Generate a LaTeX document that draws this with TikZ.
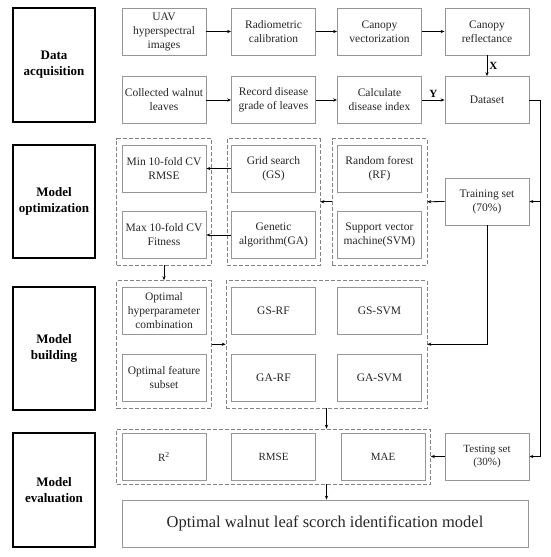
\documentclass[tikz,border=0pt]{standalone}
\usepackage{fontspec}
\setmainfont{Liberation Serif}
\usetikzlibrary{arrows.meta, positioning, fit}
\definecolor{boxgray}{RGB}{150,150,150}
\definecolor{dashgray}{RGB}{130,130,130}

\begin{document}
\begin{tikzpicture}[x=1pt, y=-1pt,
        box/.style={rectangle, draw=boxgray, line width=0.8pt, text=black!85,
          minimum width=84pt, minimum height=47pt, inner sep=1pt, align=center,
          font=\fontsize{11.5}{14}\selectfont},
        stage/.style={rectangle, draw, line width=1.1pt, minimum width=82pt,
          align=center, font=\bfseries\fontsize{13}{16}\selectfont},
        grp/.style={rectangle, draw=dashgray, dash pattern=on 4pt off 2pt, line width=0.8pt,
          inner xsep=5pt, inner ysep=6pt},
        tag/.style={font=\bfseries\fontsize{11}{13}\selectfont, inner sep=2pt},
        arrow/.style={-{Stealth[length=4pt, width=3.2pt]}, line width=0.8pt}
      ]
        \useasboundingbox (0,0) rectangle (550,557);
        % stages
        \node[stage, minimum height=114pt] (acq) at (54,65) {Data\\acquisition};
        \node[stage, minimum height=113pt] (opt) at (54,201.5) {Model\\optimization};
        \node[stage, minimum height=123pt] (bld) at (54,348.5) {Model\\building};
        \node[stage, minimum height=114pt] (evl) at (54,490) {Model\\evaluation};
        % data acquisition
        \node[box] (uav) at (164,31.5) {UAV\\hyperspectral\\images};
        \node[box] (radio) at (273.5,31.5) {Radiometric\\calibration};
        \node[box] (vect) at (379.5,31.5) {Canopy\\vectorization};
        \node[box] (refl) at (487,31.5) {Canopy\\reflectance};
        \node[box] (leaves) at (164,100) {Collected walnut\\leaves};
        \node[box] (grade) at (273.5,100) {Record disease\\grade of leaves};
        \node[box] (index) at (379.5,100) {Calculate\\disease index};
        \node[box] (data) at (487,100) {Dataset};
        % model optimization
        \node[box] (minrmse) at (164,168.5) {Min 10-fold CV\\RMSE};
        \node[box] (maxfit) at (164,235) {Max 10-fold CV\\Fitness};
        \node[box] (gs) at (273.5,168.5) {Grid search\\(GS)};
        \node[box] (ga) at (273.5,235) {Genetic\\algorithm(GA)};
        \node[box] (rf) at (379.5,168.5) {Random forest\\(RF)};
        \node[box] (svm) at (379.5,235) {Support vector\\machine(SVM)};
        \node[box] (train) at (487,201.5) {Training set\\(70\%)};
        \node[grp, fit=(minrmse)(maxfit)] (og1) {};
        \node[grp, inner xsep=4pt, fit=(gs)(ga)] (og2) {};
        \node[grp, fit=(rf)(svm)] (og3) {};
        % model building
        \node[box] (hyper) at (164,310.5) {Optimal\\hyperparameter\\combination};
        \node[box] (subset) at (164,378) {Optimal feature\\subset};
        \node[box] (gsrf) at (273.5,310.5) {GS-RF};
        \node[box] (gssvm) at (379.5,310.5) {GS-SVM};
        \node[box] (garf) at (273.5,378) {GA-RF};
        \node[box] (gasvm) at (379.5,378) {GA-SVM};
        \node[grp, fit=(hyper)(subset)] (bg1) {};
        \node[grp, fit=(gsrf)(gasvm)] (bg2) {};
        % model evaluation
        \node[box, font=\fontsize{11}{13.5}\selectfont] (rsq) at (164,456.5) {R\textsuperscript{2}};
        \node[box, font=\fontsize{11}{13.5}\selectfont] (rmse) at (273.5,456.5) {RMSE};
        \node[box, font=\fontsize{11}{13.5}\selectfont] (mae) at (383,456.5) {MAE};
        \node[box, font=\fontsize{11}{13.5}\selectfont] (test) at (487,456.5) {Testing set\\(30\%)};
        \node[grp, inner ysep=3.5pt, fit=(rsq)(mae)] (eg) {};
        \node[box, minimum width=406pt, font=\fontsize{16.5}{20}\selectfont] (best) at (325,523.5)
          {Optimal walnut leaf scorch identification model};
        % connectors
        \draw[arrow] (uav) -- (radio);
        \draw[arrow] (radio) -- (vect);
        \draw[arrow] (vect) -- (refl);
        \draw[arrow] (leaves) -- (grade);
        \draw[arrow] (grade) -- (index);
        \draw[arrow] (index) -- node[tag, above] {Y} (data);
        \draw[arrow] (refl) -- node[tag, right] {X} (data);
        \coordinate (rail) at (540,100);
        \draw (data.east) -- (rail);
        \draw[arrow] (rail) |- (test.east);
        \draw[arrow] (rail |- train.east) -- (train.east);
        \draw[arrow] (train.west) -- (og3.east);
        \draw[arrow] (og3.west) -- (og2.east);
        \draw[arrow] (gs.west) -- (minrmse.east);
        \draw[arrow] (ga.west) -- (maxfit.east);
        \draw[arrow] (og1.south) -- (bg1.north);
        \draw[arrow] (bg1.east) -- (bg2.west);
        \draw[arrow] (train.south) |- (bg2.east);
        \draw[arrow] (bg2.south) -- (bg2.south |- eg.north);
        \draw[arrow] (test.west) -- (eg.east);
        \draw[arrow] (bg2.south |- eg.south) -- (bg2.south |- best.north);
      \end{tikzpicture}
\end{document}
